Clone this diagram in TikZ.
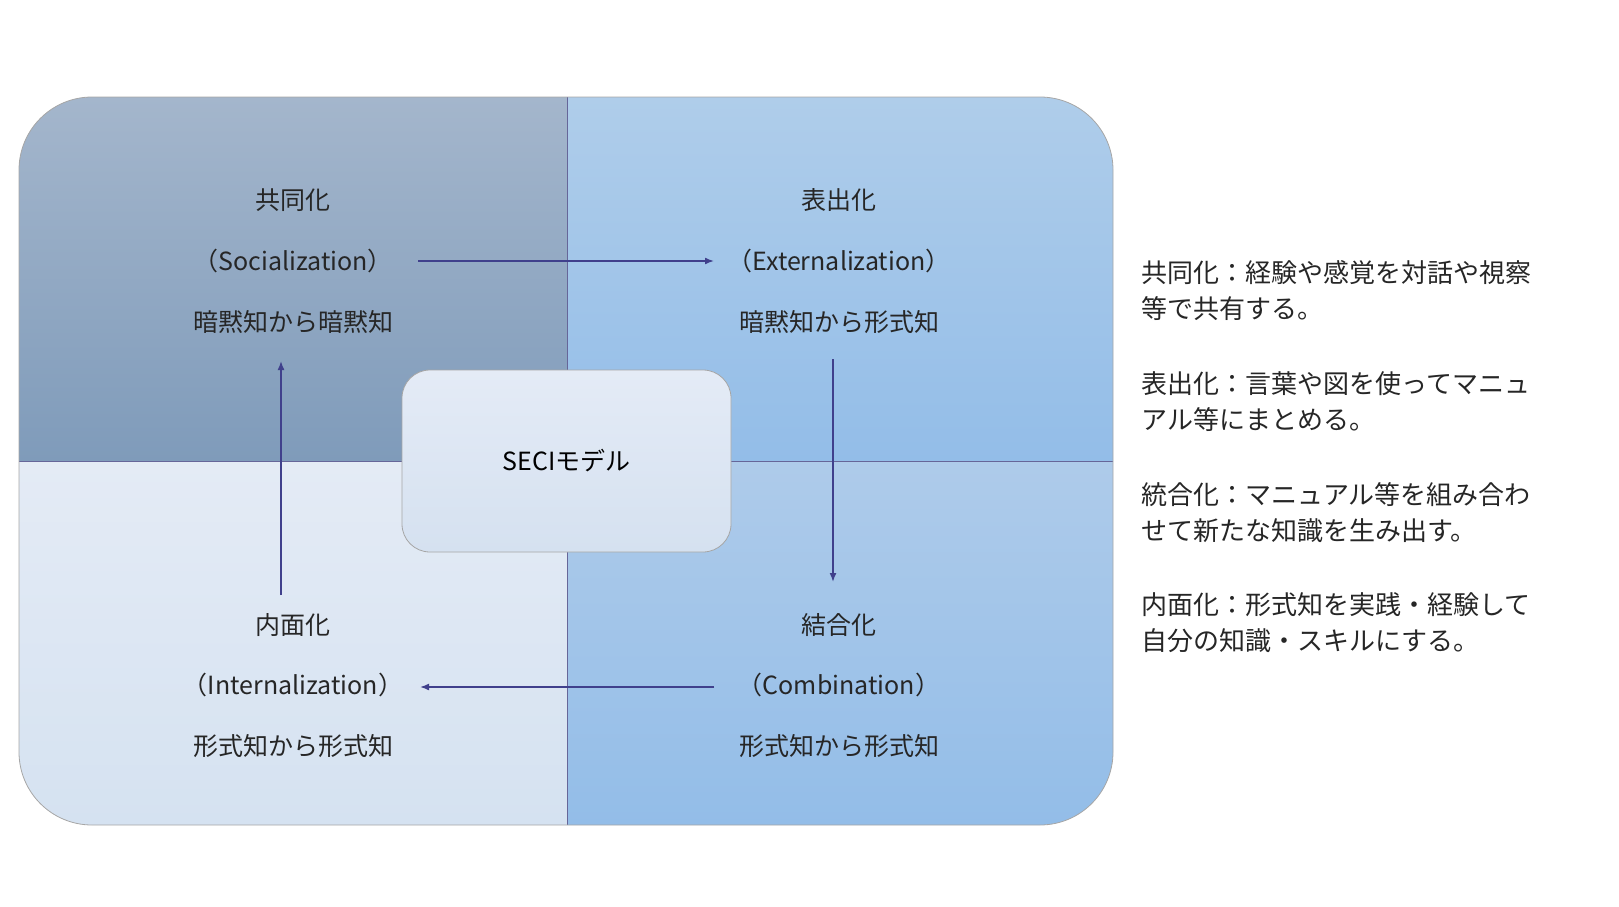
\documentclass[tikz,border=0pt]{standalone}
\usepackage{fontspec}
\setmainfont{Noto Sans CJK JP}
\begin{document}
\begin{tikzpicture}[x=1pt,y=-1pt,
  lbl/.style={font=\fontsize{25}{30}\selectfont, text=black!85, align=center},
  side/.style={font=\fontsize{26}{36}\selectfont, text=black!85, anchor=north west, align=left},
  arr/.style={draw=blue!40!black!75, line width=1.6pt, -{Latex[length=9pt,width=7pt]}}]
\usetikzlibrary{arrows.meta}
\useasboundingbox (0,0) rectangle (1619,907);
\begin{scope}
\clip[rounded corners=73] (19,97) rectangle (1113,825);
\shade[top color={rgb,255:red,164;green,182;blue,204}, bottom color={rgb,255:red,127;green,155;blue,186}] (19,97) rectangle (567,461);
\shade[top color={rgb,255:red,175;green,205;blue,234}, bottom color={rgb,255:red,147;green,189;blue,232}] (567,97) rectangle (1113,461);
\shade[top color={rgb,255:red,228;green,235;blue,245}, bottom color={rgb,255:red,213;green,226;blue,241}] (19,461) rectangle (567,825);
\shade[top color={rgb,255:red,174;green,203;blue,234}, bottom color={rgb,255:red,147;green,189;blue,232}] (567,461) rectangle (1113,825);
\draw[gray!80!blue, line width=0.8pt] (567,97) -- (567,825) (19,461) -- (1113,461);
\end{scope}
\draw[gray!70, line width=0.8pt, rounded corners=73] (19,97) rectangle (1113,825);
\node[draw=gray!70, line width=0.8pt, rounded corners=28, minimum width=329pt, minimum height=182pt,
  top color={rgb,255:red,228;green,235;blue,246}, bottom color={rgb,255:red,213;green,225;blue,240},
  font=\fontsize{25}{30}\selectfont] (c) at (566.5,461) {SECIモデル};
\node[lbl] (s1) at (293,200) {共同化};
\node[lbl] (s2) at (293,261) {（Socialization）};
\node[lbl] (s3) at (293,322) {暗黙知から暗黙知};
\node[lbl] (e1) at (839,200) {表出化};
\node[lbl] (e2) at (839,261) {（Externalization）};
\node[lbl] (e3) at (839,322) {暗黙知から形式知};
\node[lbl] (i1) at (293,625) {内面化};
\node[lbl] (i2) at (293,685) {（Internalization）};
\node[lbl] (i3) at (293,746) {形式知から形式知};
\node[lbl] (b1) at (839,625) {結合化};
\node[lbl] (b2) at (839,685) {（Combination）};
\node[lbl] (b3) at (839,746) {形式知から形式知};
\coordinate (a1) at (418,261); \coordinate (a2) at (714,261);
\coordinate (a3) at (833,359); \coordinate (a4) at (833,582);
\coordinate (a5) at (714,687); \coordinate (a6) at (420,687);
\coordinate (a7) at (281,595); \coordinate (a8) at (281,361);
\draw[arr] (a1) -- (a2);
\draw[arr] (a3) -- (a4);
\draw[arr] (a5) -- (a6);
\draw[arr] (a7) -- (a8);
\node[side] (t1) at (1138,257) {共同化：経験や感覚を対話や視察\\等で共有する。};
\node[side] (t2) at (1138,368) {表出化：言葉や図を使ってマニュ\\アル等にまとめる。};
\node[side] (t3) at (1138,479) {統合化：マニュアル等を組み合わ\\せて新たな知識を生み出す。};
\node[side] (t4) at (1138,589) {内面化：形式知を実践・経験して\\自分の知識・スキルにする。};
\end{tikzpicture}
\end{document}
